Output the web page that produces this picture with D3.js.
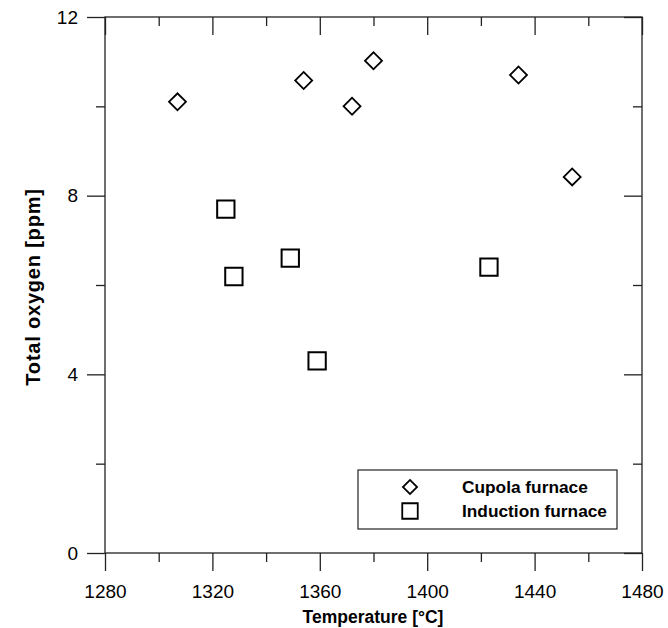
<!DOCTYPE html>
<html>
<head>
<meta charset="utf-8">
<script src="https://cdn.jsdelivr.net/npm/d3@7"></script>
<style>
  html, body { margin: 0; padding: 0; background: #fff; }
  svg { display: block; font-family: "Liberation Sans", Arial, sans-serif; }
</style>
</head>
<body>
<svg id="chart" width="668" height="628"></svg>
<script>
// Cupola furnace samples: temperature (°C) and total oxygen (ppm)
const cupolaTemp   = [1307, 1354, 1372, 1380, 1434, 1454];
const cupolaOxygen = [10.1, 10.58, 10.0, 11.02, 10.7, 8.42];

// Induction furnace samples
const inductionTemp   = [1325, 1328, 1349, 1359, 1423];
const inductionOxygen = [7.7, 6.19, 6.6, 4.3, 6.4];

const xTicks = [1280, 1320, 1360, 1400, 1440, 1480];
const xMinorTicks = [1300, 1340, 1380, 1420, 1460];
const yTicks = [0, 4, 8, 12];
const yMinorTicks = [2, 6, 10];

const seriesNames = ["Cupola furnace", "Induction furnace"];

const svg = d3.select("#chart");
const m = { left: 105, right: 642, top: 17, bottom: 553 };

const x = d3.scaleLinear().domain([1280, 1480]).range([m.left, m.right]);
const y = d3.scaleLinear().domain([0, 12]).range([m.bottom, m.top]);

const axisColor = "#222";
const fontStack = "'Liberation Sans', Arial, sans-serif";

// Frame
svg.append("rect")
  .attr("x", m.left).attr("y", m.top)
  .attr("width", m.right - m.left).attr("height", m.bottom - m.top)
  .attr("fill", "none").attr("stroke", axisColor).attr("stroke-width", 1.3);

const major = 18, minor = 9;

// Bottom axis: ticks outward, labels
const axBottom = svg.append("g").attr("transform", `translate(0,${m.bottom})`)
  .call(d3.axisBottom(x).tickValues(xTicks).tickSize(major).tickPadding(14).tickFormat(d3.format("d")));
axBottom.append("g").call(d3.axisBottom(x).tickValues(xMinorTicks).tickSize(minor).tickFormat(""));

// Top axis: ticks inward
const axTop = svg.append("g").attr("transform", `translate(0,${m.top})`)
  .call(d3.axisBottom(x).tickValues(xTicks).tickSize(major).tickFormat(""));
axTop.append("g").call(d3.axisBottom(x).tickValues(xMinorTicks).tickSize(minor).tickFormat(""));

// Left axis: ticks outward, labels
const axLeft = svg.append("g").attr("transform", `translate(${m.left},0)`)
  .call(d3.axisLeft(y).tickValues(yTicks).tickSize(major).tickPadding(9).tickFormat(d3.format("d")));
axLeft.append("g").call(d3.axisLeft(y).tickValues(yMinorTicks).tickSize(minor).tickFormat(""));

// Right axis: ticks inward
const axRight = svg.append("g").attr("transform", `translate(${m.right},0)`)
  .call(d3.axisLeft(y).tickValues(yTicks).tickSize(major).tickFormat(""));
axRight.append("g").call(d3.axisLeft(y).tickValues(yMinorTicks).tickSize(minor).tickFormat(""));

svg.selectAll(".domain").remove();
svg.selectAll(".tick line").attr("stroke", axisColor).attr("stroke-width", 1.3);
svg.selectAll(".tick text").attr("fill", "#000").style("font-size", "19px")
  .style("font-family", fontStack);

// Axis titles
svg.append("text")
  .attr("x", 373).attr("y", 623)
  .attr("text-anchor", "middle")
  .style("font-family", fontStack)
  .style("font-size", "17.5px").style("font-weight", "bold")
  .text("Temperature [°C]");

svg.append("text")
  .attr("transform", `translate(40,${(m.top + m.bottom) / 2 + 2}) rotate(-90)`)
  .attr("text-anchor", "middle")
  .style("font-family", fontStack)
  .style("font-size", "20px").style("font-weight", "bold")
  .style("letter-spacing", "0.8px")
  .text("Total oxygen [ppm]");

const diamond = d3.symbol().type(d3.symbolSquare).size(144);
const square = d3.symbol().type(d3.symbolSquare).size(300);

// Cupola markers (diamonds)
svg.append("g").selectAll("path")
  .data(cupolaTemp.map((t, i) => [t, cupolaOxygen[i]]))
  .join("path")
  .attr("d", diamond)
  .attr("transform", d => `translate(${x(d[0])},${y(d[1])}) rotate(45)`)
  .attr("fill", "none").attr("stroke", "#000").attr("stroke-width", 1.8);

// Induction markers (squares)
svg.append("g").selectAll("path")
  .data(inductionTemp.map((t, i) => [t, inductionOxygen[i]]))
  .join("path")
  .attr("d", square)
  .attr("transform", d => `translate(${x(d[0])},${y(d[1])})`)
  .attr("fill", "none").attr("stroke", "#000").attr("stroke-width", 2);

// Legend
const lg = svg.append("g");
lg.append("rect")
  .attr("x", 358).attr("y", 470).attr("width", 259).attr("height", 59)
  .attr("fill", "#fff").attr("stroke", axisColor).attr("stroke-width", 1.2);

lg.append("path").attr("d", d3.symbol().type(d3.symbolSquare).size(100))
  .attr("transform", "translate(410,487) rotate(45)")
  .attr("fill", "none").attr("stroke", "#000").attr("stroke-width", 1.8);
lg.append("path").attr("d", d3.symbol().type(d3.symbolSquare).size(240))
  .attr("transform", "translate(410,511)")
  .attr("fill", "none").attr("stroke", "#000").attr("stroke-width", 1.8);

lg.selectAll("text.lab").data(seriesNames).join("text")
  .attr("class", "lab")
  .attr("x", 462).attr("y", (d, i) => 493 + i * 23.5)
  .style("font-family", fontStack)
  .style("font-size", "17.3px").style("font-weight", "bold")
  .text(d => d);
</script>
</body>
</html>
